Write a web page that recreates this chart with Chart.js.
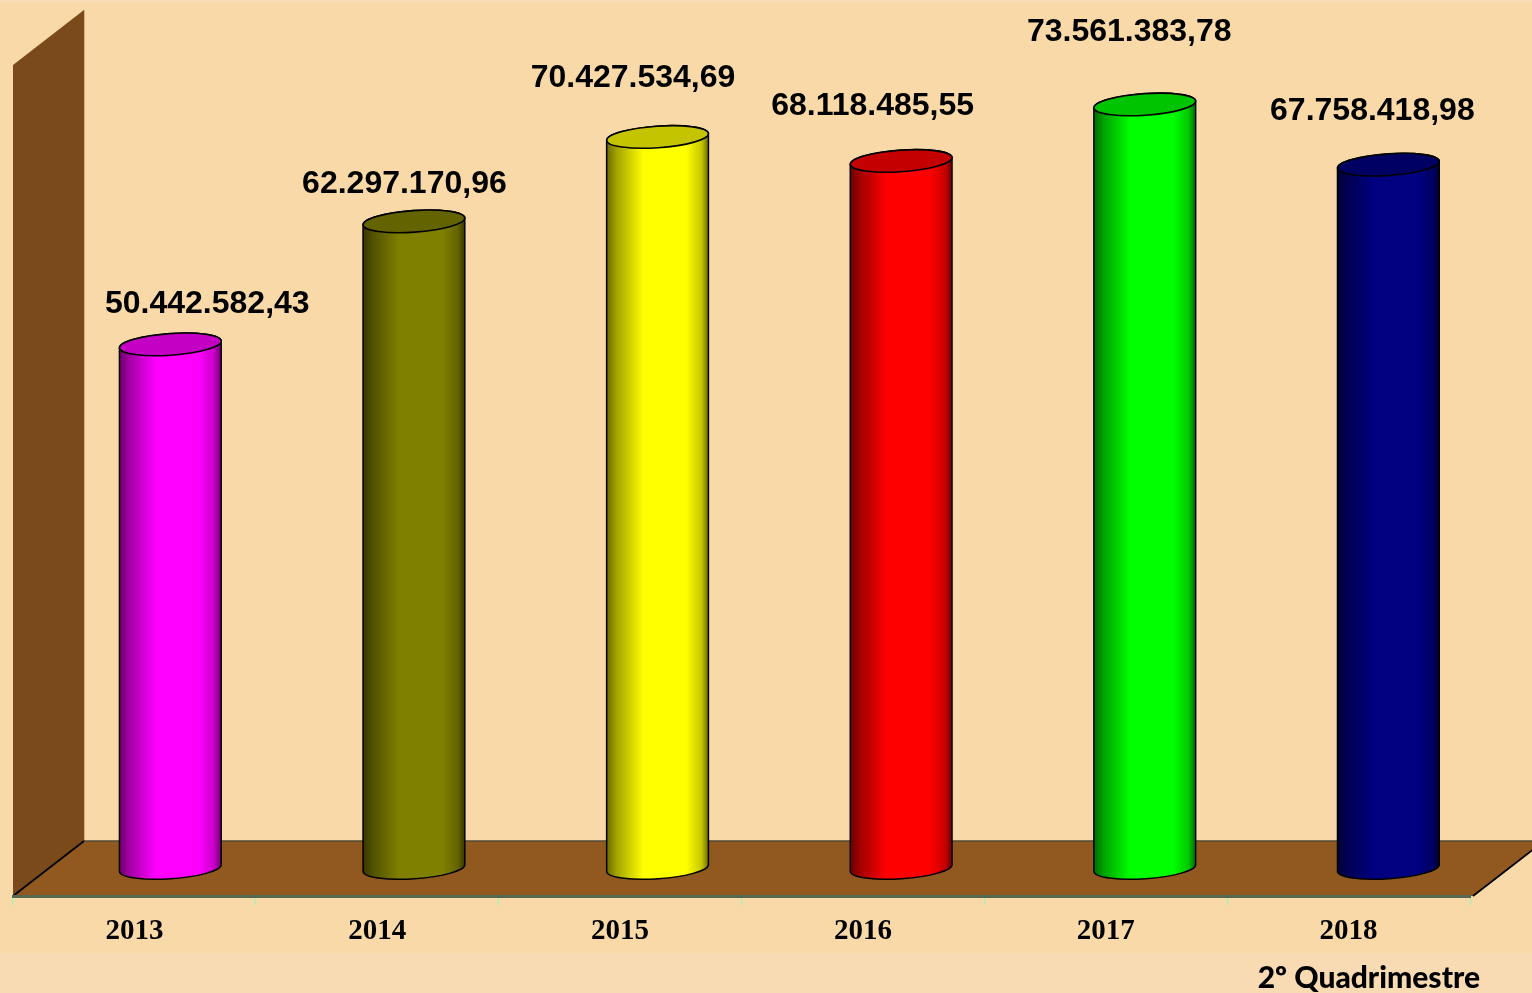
<!DOCTYPE html>
<html lang="pt">
<head>
<meta charset="utf-8">
<title>2º Quadrimestre</title>
<script src="https://cdn.jsdelivr.net/npm/chart.js@4"></script>
<style>
html,body{margin:0;padding:0;background:#F9D9A8;overflow:hidden}
#wrap{position:relative;width:1532px;height:993px}
canvas{display:block}
</style>
</head>
<body>
<div id="wrap"><canvas id="c" width="1532" height="993"></canvas></div>
<script>
const years = ['2013','2014','2015','2016','2017','2018'];
const values = [50442582.43, 62297170.96, 70427534.69, 68118485.55, 73561383.78, 67758418.98];
const barColors = ['#FF00FF','#808000','#FFFF00','#FF0000','#00FF00','#000080'];
const footnote = '2º Quadrimestre';
const labelOffsetX = [37, -9.5, -24.5, -28.5, -15.5, -16];
const labelOffsetY = [-40, -37, -59, -55, -72, -54];

const fmt = new Intl.NumberFormat('pt-BR',{minimumFractionDigits:2,maximumFractionDigits:2});

function shade(hex,f){
  const n=parseInt(hex.slice(1),16);
  const r=(n>>16)&255,g=(n>>8)&255,b=n&255;
  return `rgb(${Math.round(r*f)},${Math.round(g*f)},${Math.round(b*f)})`;
}
const DEPTH_X=71, DEPTH_Y=55, TILT=-3.9*Math.PI/180, RY=10.8;
// bars stand on the back part of the floor
const barX = (x)=>170.3+(x-134.4)*1.0032;

const scenePlugin = {
  id:'scene',
  beforeDraw(chart){
    const {ctx,width,height,chartArea:a}=chart;
    ctx.save();
    ctx.fillStyle='#F9D9A8'; ctx.fillRect(0,0,width,height);
    ctx.fillStyle='#FADDB5'; ctx.fillRect(0,0,width,3);
    ctx.fillStyle='#F8DBB2'; ctx.fillRect(0,953,width,height-953);
    const L=a.left,B=a.bottom,T=a.top,R=a.right+3;
    const bx=L+DEPTH_X, by=B-DEPTH_Y;
    // wall
    ctx.fillStyle='#7A4A1B';
    ctx.beginPath();ctx.moveTo(L,T+DEPTH_Y);ctx.lineTo(bx,T);ctx.lineTo(bx,by);ctx.lineTo(L,B);ctx.closePath();ctx.fill();
    ctx.strokeStyle='#D9AE7E';ctx.lineWidth=1;
    ctx.beginPath();ctx.moveTo(bx+.5,T);ctx.lineTo(bx+.5,by);ctx.stroke();
    // floor
    ctx.fillStyle='#91581F';
    ctx.beginPath();ctx.moveTo(L,B);ctx.lineTo(bx,by);ctx.lineTo(R+DEPTH_X,by);ctx.lineTo(R,B);ctx.closePath();ctx.fill();
    ctx.strokeStyle='#4F4A35';ctx.lineWidth=1.5;
    ctx.beginPath();ctx.moveTo(bx,by);ctx.lineTo(R+DEPTH_X,by);ctx.stroke();
    ctx.strokeStyle='#000';ctx.lineWidth=1.8;
    ctx.beginPath();ctx.moveTo(L,B);ctx.lineTo(bx,by);ctx.moveTo(R,B);ctx.lineTo(R+DEPTH_X,by);ctx.stroke();
    ctx.restore();
  },
  beforeDatasetDraw(chart,args){
    const {ctx}=chart;
    const meta=args.meta;
    meta.data.forEach((el,i)=>{
      const cx=barX(el.x), top=el.y, base=el.base, rx=el.width/2;
      const col=barColors[i];
      const g=ctx.createLinearGradient(cx-rx,0,cx+rx,0);
      g.addColorStop(0,shade(col,.42));
      g.addColorStop(.1,shade(col,.64));
      g.addColorStop(.36,col);
      g.addColorStop(.78,col);
      g.addColorStop(.93,shade(col,.78));
      g.addColorStop(1,shade(col,.42));
      ctx.save();
      ctx.beginPath();
      ctx.ellipse(cx,base,rx,RY,TILT,0,Math.PI,false);
      ctx.ellipse(cx,top,rx,RY,TILT,Math.PI,2*Math.PI,false);
      ctx.closePath();
      ctx.fillStyle=g;ctx.fill();
      ctx.strokeStyle='#000';ctx.lineWidth=1.5;ctx.stroke();
      // top cap
      ctx.beginPath();
      ctx.ellipse(cx,top,rx,RY,TILT,0,2*Math.PI);
      ctx.fillStyle=shade(col,.77);ctx.fill();
      ctx.lineWidth=1.6;ctx.stroke();
      // value label
      ctx.fillStyle='#000';
      ctx.font='bold 32px "Liberation Sans", Arial, sans-serif';
      ctx.textAlign='center';ctx.textBaseline='middle';
      ctx.fillText(fmt.format(values[i]),cx+labelOffsetX[i],top+labelOffsetY[i]);
      ctx.restore();
    });
    return false;
  },
  afterDraw(chart){
    const {ctx}=chart;
    ctx.save();
    ctx.fillStyle='#000';
    ctx.font='900 30px Lato, sans-serif';
    ctx.textAlign='right';ctx.textBaseline='middle';
    ctx.fillText(footnote,1480,978);
    ctx.restore();
  }
};

new Chart(document.getElementById('c'),{
  type:'bar',
  data:{labels:years,datasets:[{label:'Valor',data:values,backgroundColor:barColors,barPercentage:.42,categoryPercentage:1}]},
  plugins:[scenePlugin],
  options:{
    responsive:false,
    devicePixelRatio:1,
    animation:false,
    layout:{padding:{left:13,right:62,top:10,bottom:0}},
    plugins:{legend:{display:false},tooltip:{enabled:false},title:{display:false}},
    scales:{
      y:{display:false,min:-2700000,max:82660000,grid:{display:false}},
      x:{
        afterFit(s){s.height=97;},
        border:{display:true,color:'#56684F',width:3},
        grid:{display:true,drawOnChartArea:false,drawTicks:true,tickLength:9,tickColor:'#A8F0B8',tickWidth:1.5},
        ticks:{color:'#000',maxRotation:0,autoSkip:false,padding:9,font:{family:'"Liberation Serif", "Times New Roman", serif',weight:'bold',size:29}}
      }
    }
  }
});
</script>
</body>
</html>
